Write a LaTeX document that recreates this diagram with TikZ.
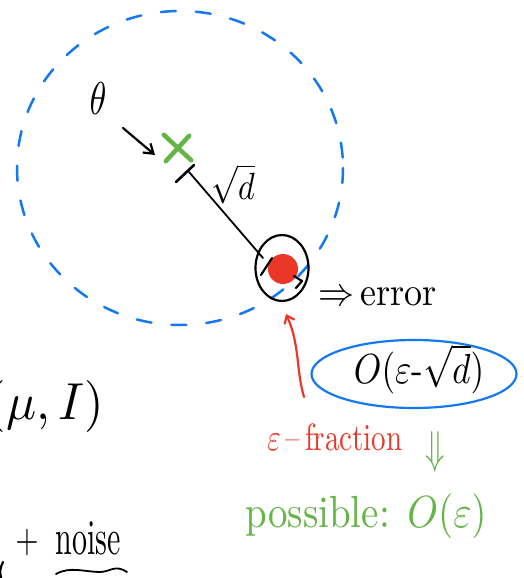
\documentclass[tikz,border=0pt]{standalone}
\usepackage{amsmath}
\usetikzlibrary{arrows.meta,decorations.pathmorphing,shapes.geometric,shapes.misc,calc}
\definecolor{pblue}{RGB}{20,120,240}
\definecolor{pred}{RGB}{235,55,40}
\definecolor{pgreen}{RGB}{100,180,70}
\tikzset{
  ink/.style={line width=2.2pt, line cap=round, line join=round},
  lbl/.style={inner sep=0pt, anchor=center},
}
\begin{document}
\begin{tikzpicture}[x=1pt,y=-1pt]
\useasboundingbox (0,0) rectangle (524,578);
% dashed blue circle
\draw[ink, line width=2.5pt, pblue, dash pattern=on 15pt off 20pt] (180,168) ellipse [x radius=163, y radius=157];
% theta
\node[lbl, xscale=3.4, yscale=4.6] (theta) at (98,99) {$\theta$};
% green cross
\node[lbl, minimum size=30pt] (x) at (177,148) {};
\draw[line width=4.5pt, pgreen, line cap=round] ($(x.north west)+(2,2)$) -- ($(x.south east)+(-1,-3)$);
\draw[line width=4.5pt, pgreen, line cap=round] ($(x.north east)+(-3,3)$) -- ($(x.south west)+(4,-2)$);
% tick mark
\coordinate (tickc) at (189,172);
\draw[ink, line width=2.6pt] (176,182) -- (194,165);
% arrow
\coordinate (arrs) at (123,128);
\coordinate (arre) at (155,155);
\draw[ink, -{Straight Barb[length=9pt,width=12pt]}] (arrs) -- (arre);
% small circle and red blob
\node[ink, draw, ellipse, minimum width=53pt, minimum height=66pt, inner sep=0pt] (ball) at (282,268) {};
\node[fill=pred, rounded rectangle, minimum width=26pt, minimum height=30pt, inner sep=0pt] (blob) at (283,269) {};
\coordinate (lineend) at (263,258);
\draw[line width=1.8pt, line cap=round] (tickc) -- (lineend);
\draw[ink] (261,275) -- (272,258);
\draw[ink] (294,276) -- (302,281) -- (296,288);
% sqrt d
\node[lbl, xscale=3.2, yscale=3.8] (sd) at (233,184) {$\sqrt{d}$};
% => error
\node[lbl, anchor=west, xscale=3.6, yscale=4] (err) at (318,297) {$\Rightarrow$\,error};
% blue ellipse
\node[ink, draw=pblue, ellipse, minimum width=205pt, minimum height=68pt] (box) at (414,374) {};
\node[lbl, xscale=3.5, yscale=4.2] (bigo) at (419,369) {$O(\varepsilon\text{-}\sqrt{d})$};
% red arrow
\coordinate (rbot) at (304,397);
\coordinate (rtop) at (286,314);
\draw[ink, pred, -{Straight Barb[length=7pt,width=11pt]}] (rbot) .. controls (296,370) and (300,345) .. (rtop);
\node[lbl, pred, xscale=2.9, yscale=3.8] (frac) at (335,437) {$\varepsilon$\,--\,fraction};
% green double arrow
\node[lbl, pgreen, xscale=3.2, yscale=4.6] (darr) at (435,452) {$\Downarrow$};
\node[lbl, pgreen, xscale=3.9, yscale=4.5] (poss) at (366,516) {possible: $O(\varepsilon)$};
% (mu, I)
\node[lbl, anchor=west, xscale=5, yscale=5.2] (mu) at (-14,406) {$(\mu, I)$};
% + noise
\node[lbl, xscale=3, yscale=4] (plus) at (27,542) {$+$};
\node[lbl, xscale=3, yscale=5] (noise) at (88,538) {noise};
\coordinate (sqa) at (56,574);
\coordinate (sqb) at (127,572);
\draw[line width=1.8pt, line cap=round] (sqa) .. controls (70,566) and (85,572) .. (100,572) .. controls (110,572) and (115,564) .. (sqb);
\draw[ink] (3,562) to[bend right=20] (1,578);
\end{tikzpicture}
\end{document}
